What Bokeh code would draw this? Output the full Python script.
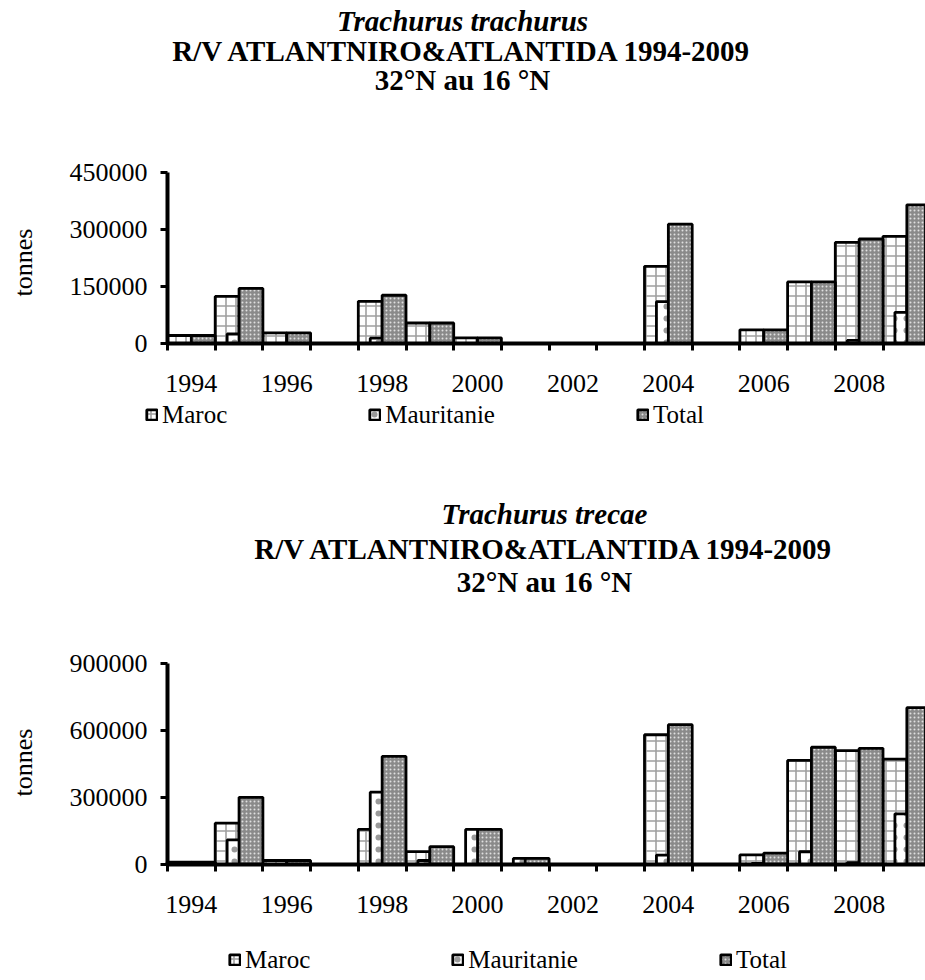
from bokeh.plotting import figure
from bokeh.models import (ColumnDataSource, Range1d, FixedTicker, BasicTickFormatter,
                          Label, Legend, LegendItem)
from bokeh.layouts import column
from bokeh.embed import file_html
from bokeh.resources import INLINE

# ---------------- data ----------------
years = list(range(1994, 2010))

trachurus_maroc = [21000, 124000, 28000, 0, 111000, 54000, 15000, 0, 0, 0,
                   203000, 0, 36000, 162000, 266000, 282000]
trachurus_mauritanie = [0, 25000, 0, 0, 14000, 0, 0, 0, 0, 0,
                        110000, 0, 0, 0, 8000, 82000]
trachurus_total = [21000, 145000, 28000, 0, 127000, 54000, 15000, 0, 0, 0,
                   314000, 0, 36000, 162000, 275000, 365000]

trecae_maroc = [10000, 185000, 18000, 0, 157000, 58000, 0, 0, 0, 0,
                581000, 0, 43000, 466000, 510000, 472000]
trecae_mauritanie = [0, 110000, 0, 0, 324000, 18000, 157000, 27000, 0, 0,
                     42000, 0, 5000, 57000, 8000, 227000]
trecae_total = [10000, 301000, 18000, 0, 484000, 80000, 157000, 27000, 0, 0,
                626000, 0, 51000, 525000, 520000, 702000]

series_names = ["Maroc", "Mauritanie", "Total"]
year_labels = list(range(1994, 2010, 2))
ticks_top = [0, 150000, 300000, 450000]
ticks_bottom = [0, 300000, 600000, 900000]
y_label = "tonnes"

title_top = ["Trachurus trachurus", "R/V ATLANTNIRO&ATLANTIDA 1994-2009", "32°N au 16 °N"]
title_bottom = ["Trachurus trecae", "R/V ATLANTNIRO&ATLANTIDA 1994-2009", "32°N au 16 °N"]

# ---------------- style / layout ----------------
FONT = "Liberation Serif"
CAT_PX = 47.7            # pixels per year category
FIG_W = 925
AXIS_X = 167             # page x of the value axis
x_start = 1993.5 - AXIS_X / CAT_PX
x_end = 1993.5 + (FIG_W - AXIS_X) / CAT_PX

STYLES = [
    dict(fill_color="white", hatch_pattern="cross", hatch_color="#a0a0a0",
         hatch_scale=10, hatch_weight=1.6),
    dict(fill_color="white", hatch_pattern="dot", hatch_color="#9a9a9a",
         hatch_scale=12, hatch_weight=2),
    dict(fill_color="#8a8a8a", hatch_pattern="dot", hatch_color="#e0e0e0",
         hatch_scale=4, hatch_weight=1.5),
]
LINE = dict(line_color="black", line_width=2.8)


def make_chart(maroc, maur, total, ymax, yticks, height, zero_px, data_h,
               titles, title_x, title_ys, ylab_y, leg_x, leg_y):
    src = ColumnDataSource(dict(
        x_maroc=[y - 0.25 for y in years],
        x_maur=list(years),
        x_total=[y + 0.25 for y in years],
        maroc=maroc, maur=maur, total=total))

    per_px = ymax / data_h
    y_end = zero_px * per_px
    y_start = -(height - zero_px) * per_px
    p = figure(width=FIG_W, height=height,
               x_range=Range1d(x_start, x_end), y_range=Range1d(y_start, y_end),
               output_backend="svg", toolbar_location=None, title=None,
               min_border_left=0, min_border_right=0,
               min_border_top=0, min_border_bottom=0)
    p.outline_line_color = None
    p.xgrid.visible = False
    p.ygrid.visible = False

    rs = []
    for xcol, ycol, st in zip(["x_maroc", "x_maur", "x_total"],
                              ["maroc", "maur", "total"], STYLES):
        rs.append(p.vbar(x=xcol, top=ycol, width=0.5, source=src, **st, **LINE))

    # y axis (fixed at the left edge of the category area)
    ya = p.yaxis[0]
    ya.fixed_location = 1993.5
    ya.bounds = (0, ymax)
    ya.ticker = FixedTicker(ticks=yticks)
    ya.formatter = BasicTickFormatter(use_scientific=False)
    ya.major_label_text_font = FONT
    ya.major_label_text_font_size = "26px"
    ya.major_label_text_color = "black"
    ya.major_label_standoff = 13
    ya.axis_line_width = 4
    ya.axis_line_color = "black"
    ya.major_tick_line_width = 3
    ya.major_tick_line_color = "black"
    ya.major_tick_out = 7
    ya.major_tick_in = 0
    ya.minor_tick_line_color = None

    # x axis (fixed at zero)
    xa = p.xaxis[0]
    xa.fixed_location = 0
    xa.bounds = (1993.5, x_end)
    xa.ticker = FixedTicker(ticks=year_labels,
                            minor_ticks=[y - 0.5 for y in years] + [years[-1] + 0.5])
    xa.formatter = BasicTickFormatter(use_scientific=False)
    xa.major_label_text_font = FONT
    xa.major_label_text_font_size = "26px"
    xa.major_label_text_color = "black"
    xa.major_tick_out = 0
    xa.major_tick_in = 0
    xa.major_tick_line_color = None
    xa.major_label_standoff = 24
    xa.minor_tick_out = 7
    xa.minor_tick_in = 0
    xa.minor_tick_line_width = 3
    xa.minor_tick_line_color = "black"
    xa.axis_line_width = 4
    xa.axis_line_color = "black"

    # value axis title
    p.add_layout(Label(x=23, y=ylab_y, x_units="screen", y_units="screen",
                       text=y_label, angle=90, angle_units="deg",
                       text_font=FONT, text_font_size="26px", text_color="black",
                       text_align="center", text_baseline="middle"))

    # chart titles
    styles = ["bold italic", "bold", "bold"]
    for text, ty, st in zip(titles, title_ys, styles):
        p.add_layout(Label(x=title_x, y=ty, x_units="screen", y_units="screen",
                           text=text, text_font=FONT, text_font_size="29px",
                           text_font_style=st, text_color="black",
                           text_align="center", text_baseline="middle"))

    legend = Legend(items=[LegendItem(label=n, renderers=[r])
                           for n, r in zip(series_names, rs)],
                    location=(leg_x, leg_y), orientation="horizontal",
                    spacing=141, padding=0, margin=0,
                    glyph_width=13, glyph_height=13, label_standoff=4,
                    label_text_font=FONT, label_text_font_size="25px",
                    label_text_color="black",
                    border_line_color=None, background_fill_alpha=0)
    p.add_layout(legend, "center")
    return p


# top chart: page rows 0..435, zero line at 343, 450000 at 172
p1 = make_chart(trachurus_maroc, trachurus_mauritanie, trachurus_total,
                450000, ticks_top, 435, 343, 171,
                title_top, 462, [415, 385, 356], 173, 145, 6.5)
# bottom chart: page rows 435..980, zero line at 864, 900000 at 663
p2 = make_chart(trecae_maroc, trecae_mauritanie, trecae_total,
                900000, ticks_bottom, 545, 429, 201,
                title_bottom, 544, [467, 432, 399], 218, 228, 6.5)

layout = column(p1, p2, spacing=0)
open("out.html", "w").write(file_html(layout, INLINE))
